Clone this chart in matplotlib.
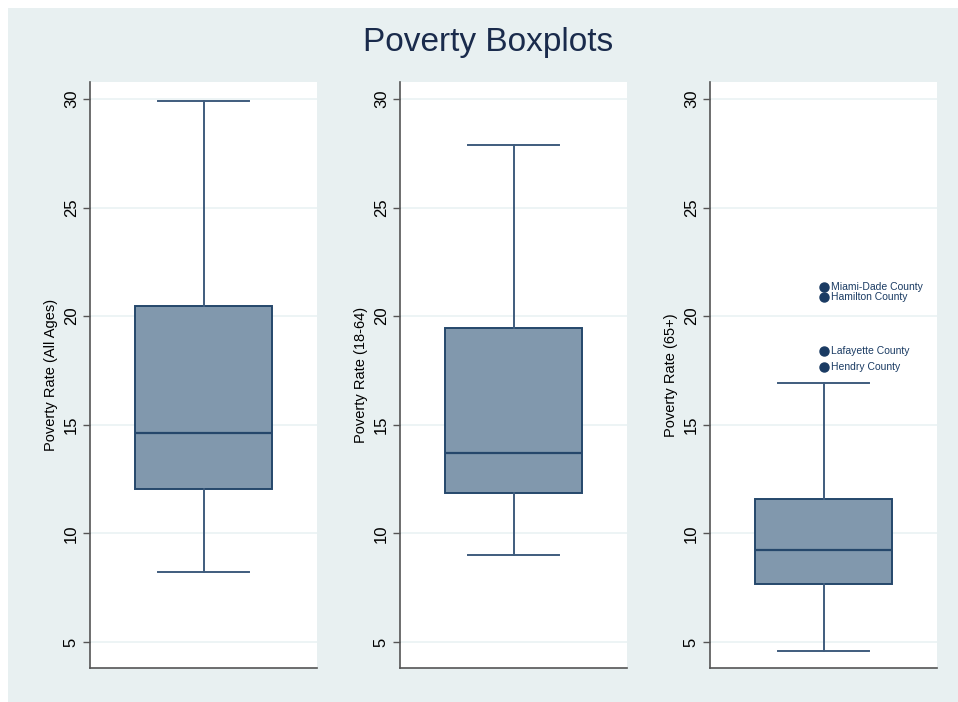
import matplotlib
matplotlib.use("Agg")
import matplotlib.pyplot as plt

plt.rcParams['font.family'] = ['Liberation Sans', 'DejaVu Sans']

# ---- data ----
ylabels = ["Poverty Rate (All Ages)", "Poverty Rate (18-64)", "Poverty Rate (65+)"]
whisker_low = [8.22, 9.0, 4.60]
q1 = [12.05, 11.85, 7.65]
median = [14.61, 13.71, 9.21]
q3 = [20.47, 19.46, 11.56]
whisker_high = [29.92, 27.88, 16.91]
outlier_values = [[], [], [21.32, 20.89, 18.40, 17.67]]
outlier_names = [[], [], ["Miami-Dade County", "Hamilton County", "Lafayette County", "Hendry County"]]
yticks = [5, 10, 15, 20, 25, 30]
title = "Poverty Boxplots"

# ---- style ----
BG = "#E8F0F1"
FILL = "#8198AD"
EDGE = "#25476B"
WHISK = "#3F5C7D"
GRID = "#EAF2F3"
SPINE = "#555555"

W, H = 958, 702
fig = plt.figure(figsize=(W / 100, H / 100), dpi=100)
fig.patch.set_facecolor("white")
fig.add_artist(plt.Rectangle((8 / W, 0), 1 - 8 / W, 1 - 8 / H, transform=fig.transFigure,
                             facecolor=BG, edgecolor="none", zorder=-10))

fig.text(488 / W, 1 - 42 / H, title, ha="center", va="center", fontsize=24, color="#1A2B4C")

lefts = [90, 400, 710]
pw = 227
top_px, bot_px = 82, 668

for i in range(3):
    ax = fig.add_axes([lefts[i] / W, 1 - bot_px / H, pw / W, (bot_px - top_px) / H])
    ax.set_facecolor("white")
    stats = [dict(med=median[i], q1=q1[i], q3=q3[i], whislo=whisker_low[i],
                  whishi=whisker_high[i], fliers=outlier_values[i])]
    ax.bxp(stats, positions=[0], widths=0.6, patch_artist=True, showfliers=True,
           boxprops=dict(facecolor=FILL, edgecolor=EDGE, linewidth=1.4),
           medianprops=dict(color=EDGE, linewidth=1.6),
           whiskerprops=dict(color=WHISK, linewidth=1.4),
           capprops=dict(color=WHISK, linewidth=1.4),
           capwidths=0.405,
           flierprops=dict(marker="o", markerfacecolor="#1A3B63", markeredgecolor="#1A3B63",
                           markersize=6.5),
           zorder=3)
    for v, name in zip(outlier_values[i], outlier_names[i]):
        ax.annotate(name, (0, v), xytext=(5.5, 0), textcoords="offset points",
                    va="center", ha="left", fontsize=7.5, color="#1A3B63")
    ax.set_xlim(-0.5, 0.5)
    ax.set_ylim(3.80, 30.78)
    ax.set_yticks(yticks)
    ax.set_yticklabels([str(t) for t in yticks], rotation=90, va="center", fontsize=12)
    ax.set_xticks([])
    ax.grid(axis="y", color=GRID, linewidth=1.2, zorder=0)
    ax.set_axisbelow(True)
    for s in ["top", "right"]:
        ax.spines[s].set_visible(False)
    for s in ["left", "bottom"]:
        ax.spines[s].set_color(SPINE)
        ax.spines[s].set_linewidth(1.2)
    ax.tick_params(axis="y", length=5, width=1, color=SPINE, pad=3)
    ax.set_ylabel(ylabels[i], fontsize=10.5, labelpad=4)

fig.savefig("out.png", dpi=100, facecolor=fig.get_facecolor())
